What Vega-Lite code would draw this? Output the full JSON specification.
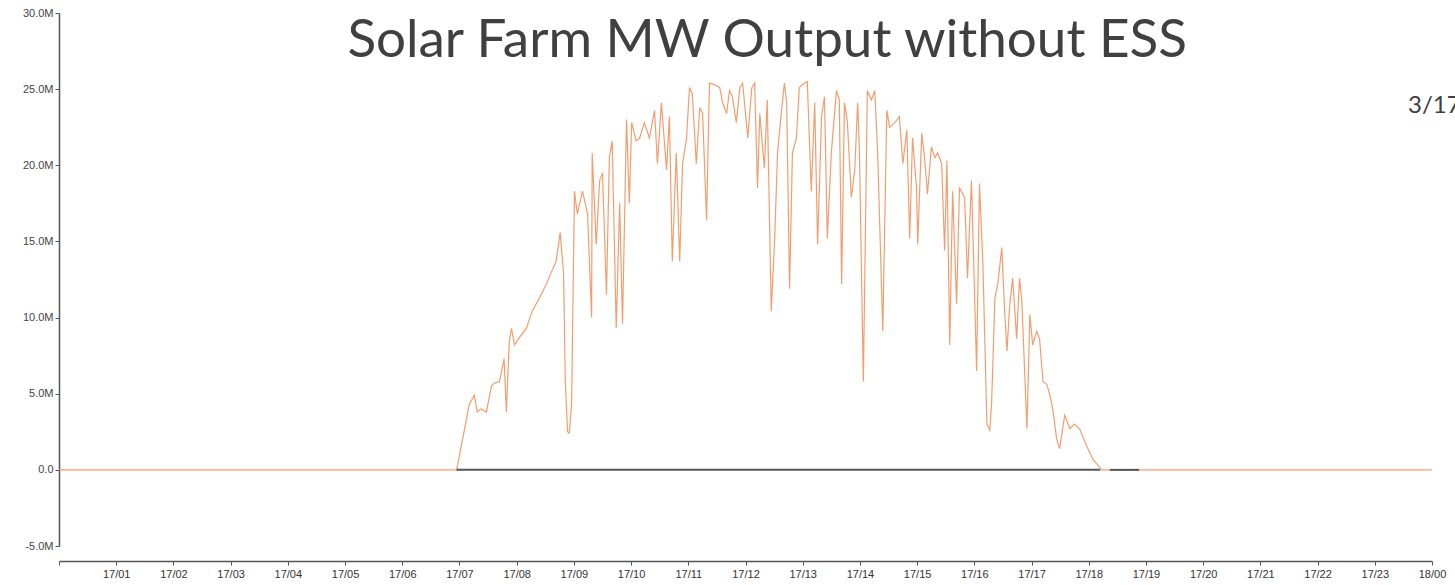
{
  "width": 1373,
  "height": 533,
  "padding": {"left": 22, "top": 7, "right": 0, "bottom": 0},
  "config": {
    "view": {"stroke": null},
    "axis": {"grid": false}
  },
  "layer": [
    {
      "data": {"values": [
        {"h": 0, "mw": 0}, {"h": 6.91, "mw": 0}, {"h": 6.95, "mw": 0}, {"h": 7.08, "mw": 2.5},
        {"h": 7.17, "mw": 4.3}, {"h": 7.26, "mw": 4.9}, {"h": 7.31, "mw": 3.8}, {"h": 7.38, "mw": 4.0},
        {"h": 7.47, "mw": 3.8}, {"h": 7.56, "mw": 5.5}, {"h": 7.61, "mw": 5.7}, {"h": 7.70, "mw": 5.8},
        {"h": 7.78, "mw": 7.3}, {"h": 7.82, "mw": 3.8}, {"h": 7.87, "mw": 8.4}, {"h": 7.91, "mw": 9.3},
        {"h": 7.96, "mw": 8.2}, {"h": 8.05, "mw": 8.7}, {"h": 8.17, "mw": 9.3}, {"h": 8.27, "mw": 10.4},
        {"h": 8.40, "mw": 11.3}, {"h": 8.52, "mw": 12.2}, {"h": 8.62, "mw": 13.1}, {"h": 8.69, "mw": 13.7},
        {"h": 8.76, "mw": 15.6}, {"h": 8.82, "mw": 12.9}, {"h": 8.85, "mw": 5.8}, {"h": 8.89, "mw": 2.5},
        {"h": 8.92, "mw": 2.4}, {"h": 8.96, "mw": 4.3}, {"h": 9.01, "mw": 18.3}, {"h": 9.06, "mw": 16.8},
        {"h": 9.15, "mw": 18.3}, {"h": 9.24, "mw": 16.8}, {"h": 9.31, "mw": 10.0}, {"h": 9.32, "mw": 20.8},
        {"h": 9.39, "mw": 14.8}, {"h": 9.45, "mw": 19.0}, {"h": 9.50, "mw": 19.5}, {"h": 9.57, "mw": 11.5},
        {"h": 9.62, "mw": 20.5}, {"h": 9.67, "mw": 21.6}, {"h": 9.74, "mw": 9.3}, {"h": 9.80, "mw": 17.5},
        {"h": 9.85, "mw": 9.6}, {"h": 9.92, "mw": 23.0}, {"h": 9.97, "mw": 17.5}, {"h": 10.01, "mw": 22.8},
        {"h": 10.09, "mw": 21.6}, {"h": 10.15, "mw": 21.8}, {"h": 10.23, "mw": 22.8}, {"h": 10.32, "mw": 21.8},
        {"h": 10.41, "mw": 23.6}, {"h": 10.46, "mw": 20.1}, {"h": 10.53, "mw": 24.1}, {"h": 10.62, "mw": 19.7},
        {"h": 10.67, "mw": 23.2}, {"h": 10.72, "mw": 13.7}, {"h": 10.79, "mw": 20.8}, {"h": 10.85, "mw": 13.7},
        {"h": 10.90, "mw": 20.1}, {"h": 10.97, "mw": 21.8}, {"h": 11.02, "mw": 25.1}, {"h": 11.07, "mw": 24.7},
        {"h": 11.14, "mw": 20.1}, {"h": 11.20, "mw": 23.8}, {"h": 11.25, "mw": 23.4}, {"h": 11.32, "mw": 16.4},
        {"h": 11.37, "mw": 25.4}, {"h": 11.46, "mw": 25.3}, {"h": 11.55, "mw": 25.1}, {"h": 11.60, "mw": 24.1},
        {"h": 11.67, "mw": 23.4}, {"h": 11.72, "mw": 24.9}, {"h": 11.77, "mw": 24.5}, {"h": 11.84, "mw": 22.8},
        {"h": 11.90, "mw": 25.1}, {"h": 11.95, "mw": 25.4}, {"h": 12.04, "mw": 21.8}, {"h": 12.11, "mw": 25.1},
        {"h": 12.16, "mw": 25.4}, {"h": 12.21, "mw": 18.5}, {"h": 12.25, "mw": 23.4}, {"h": 12.33, "mw": 19.8},
        {"h": 12.38, "mw": 24.3}, {"h": 12.45, "mw": 10.4}, {"h": 12.51, "mw": 15.2}, {"h": 12.56, "mw": 20.8},
        {"h": 12.63, "mw": 23.6}, {"h": 12.68, "mw": 25.4}, {"h": 12.72, "mw": 24.1}, {"h": 12.77, "mw": 11.9},
        {"h": 12.82, "mw": 20.8}, {"h": 12.89, "mw": 21.8}, {"h": 12.94, "mw": 25.1}, {"h": 13.03, "mw": 25.4},
        {"h": 13.08, "mw": 25.5}, {"h": 13.15, "mw": 18.3}, {"h": 13.21, "mw": 24.1}, {"h": 13.26, "mw": 14.8},
        {"h": 13.33, "mw": 23.2}, {"h": 13.38, "mw": 24.5}, {"h": 13.43, "mw": 15.2}, {"h": 13.50, "mw": 20.8},
        {"h": 13.59, "mw": 24.9}, {"h": 13.64, "mw": 24.3}, {"h": 13.68, "mw": 12.2}, {"h": 13.73, "mw": 24.1},
        {"h": 13.78, "mw": 22.9}, {"h": 13.85, "mw": 17.9}, {"h": 13.91, "mw": 19.7}, {"h": 13.96, "mw": 24.1},
        {"h": 13.99, "mw": 21.2}, {"h": 14.06, "mw": 5.8}, {"h": 14.13, "mw": 24.9}, {"h": 14.20, "mw": 24.3},
        {"h": 14.26, "mw": 24.9}, {"h": 14.31, "mw": 20.8}, {"h": 14.40, "mw": 9.1}, {"h": 14.47, "mw": 23.6},
        {"h": 14.52, "mw": 22.5}, {"h": 14.61, "mw": 22.8}, {"h": 14.69, "mw": 23.2}, {"h": 14.75, "mw": 20.1},
        {"h": 14.82, "mw": 22.3}, {"h": 14.87, "mw": 15.2}, {"h": 14.92, "mw": 21.8}, {"h": 14.99, "mw": 18.5},
        {"h": 15.01, "mw": 14.8}, {"h": 15.08, "mw": 22.1}, {"h": 15.13, "mw": 20.5}, {"h": 15.18, "mw": 18.1},
        {"h": 15.25, "mw": 21.2}, {"h": 15.31, "mw": 20.5}, {"h": 15.36, "mw": 20.8}, {"h": 15.43, "mw": 20.1},
        {"h": 15.48, "mw": 14.4}, {"h": 15.52, "mw": 20.3}, {"h": 15.57, "mw": 8.2}, {"h": 15.62, "mw": 18.3},
        {"h": 15.69, "mw": 10.9}, {"h": 15.74, "mw": 18.5}, {"h": 15.83, "mw": 17.9}, {"h": 15.88, "mw": 12.6},
        {"h": 15.95, "mw": 19.0}, {"h": 16.04, "mw": 6.5}, {"h": 16.09, "mw": 18.8}, {"h": 16.15, "mw": 13.5},
        {"h": 16.22, "mw": 3.0}, {"h": 16.27, "mw": 2.6}, {"h": 16.30, "mw": 4.2}, {"h": 16.36, "mw": 11.3},
        {"h": 16.41, "mw": 12.2}, {"h": 16.48, "mw": 14.6}, {"h": 16.53, "mw": 10.4}, {"h": 16.57, "mw": 7.8},
        {"h": 16.62, "mw": 10.9}, {"h": 16.67, "mw": 12.6}, {"h": 16.74, "mw": 8.6}, {"h": 16.79, "mw": 12.6},
        {"h": 16.83, "mw": 11.1}, {"h": 16.92, "mw": 2.7}, {"h": 16.97, "mw": 10.2}, {"h": 17.02, "mw": 8.2},
        {"h": 17.09, "mw": 9.1}, {"h": 17.14, "mw": 8.6}, {"h": 17.20, "mw": 5.8}, {"h": 17.27, "mw": 5.6},
        {"h": 17.32, "mw": 4.9}, {"h": 17.37, "mw": 4.0}, {"h": 17.44, "mw": 2.0}, {"h": 17.49, "mw": 1.4},
        {"h": 17.58, "mw": 3.6}, {"h": 17.67, "mw": 2.7}, {"h": 17.75, "mw": 3.0}, {"h": 17.84, "mw": 2.7},
        {"h": 17.96, "mw": 1.6}, {"h": 18.07, "mw": 0.7}, {"h": 18.23, "mw": 0}, {"h": 24, "mw": 0}
      ]},
      "mark": {"type": "line", "stroke": "#F0844A", "strokeWidth": 1.2, "opacity": 0.8},
      "encoding": {
        "x": {
          "field": "h", "type": "quantitative", "title": null,
          "scale": {"domain": [0, 24], "nice": false, "zero": false},
          "axis": {
            "values": [0, 1, 2, 3, 4, 5, 6, 7, 8, 9, 10, 11, 12, 13, 14, 15, 16, 17, 18, 19, 20, 21, 22, 23, 24],
            "labelExpr": "datum.value == 24 ? '18/00' : (datum.value == 0 ? '' : '17/' + (datum.value < 10 ? '0' : '') + datum.value)",
            "offset": 15,
            "domainColor": "#555555",
            "domainWidth": 1.5,
            "tickColor": "#555555",
            "tickSize": 4,
            "labelFont": "Liberation Sans",
            "labelFontSize": 11,
            "labelColor": "#333333",
            "labelPadding": 3,
            "labelFlush": false,
            "labelOverlap": false
          }
        },
        "y": {
          "field": "mw", "type": "quantitative", "title": null,
          "scale": {"domain": [-5, 30], "nice": false, "zero": false},
          "axis": {
            "values": [-5, 0, 5, 10, 15, 20, 25, 30],
            "labelExpr": "datum.value == 0 ? '0.0' : (datum.value < 0 ? '-' : '') + format(abs(datum.value), '.1f') + 'M'",
            "domainColor": "#555555",
            "domainWidth": 1.5,
            "tickColor": "#555555",
            "tickSize": 4,
            "labelFont": "Liberation Sans",
            "labelFontSize": 11,
            "labelColor": "#444444",
            "labelPadding": 2
          }
        }
      }
    },
    {
      "data": {"values": [
        {"h": 6.95, "mw": 0, "seg": "a"},
        {"h": 18.20, "mw": 0, "seg": "a"},
        {"h": 18.37, "mw": 0, "seg": "b"},
        {"h": 18.88, "mw": 0, "seg": "b"}
      ]},
      "mark": {"type": "line", "stroke": "#555555", "strokeWidth": 2},
      "encoding": {
        "x": {"field": "h", "type": "quantitative"},
        "y": {"field": "mw", "type": "quantitative"},
        "detail": {"field": "seg", "type": "nominal"}
      }
    },
    {
      "data": {"values": [
        {"h": 12.38, "mw": 27.1, "label": "Solar Farm MW Output without ESS"}
      ]},
      "mark": {"type": "text", "align": "center", "baseline": "alphabetic", "font": "Lato", "fontSize": 53, "color": "#404040"},
      "encoding": {
        "x": {"field": "h", "type": "quantitative"},
        "y": {"field": "mw", "type": "quantitative"},
        "text": {"field": "label", "type": "nominal"}
      }
    },
    {
      "data": {"values": [
        {"h": 23.58, "mw": 23.9, "label": "3/17"}
      ]},
      "mark": {"type": "text", "align": "left", "baseline": "middle", "font": "Lato", "fontSize": 24, "color": "#404040"},
      "encoding": {
        "x": {"field": "h", "type": "quantitative"},
        "y": {"field": "mw", "type": "quantitative"},
        "text": {"field": "label", "type": "nominal"}
      }
    }
  ]
}
